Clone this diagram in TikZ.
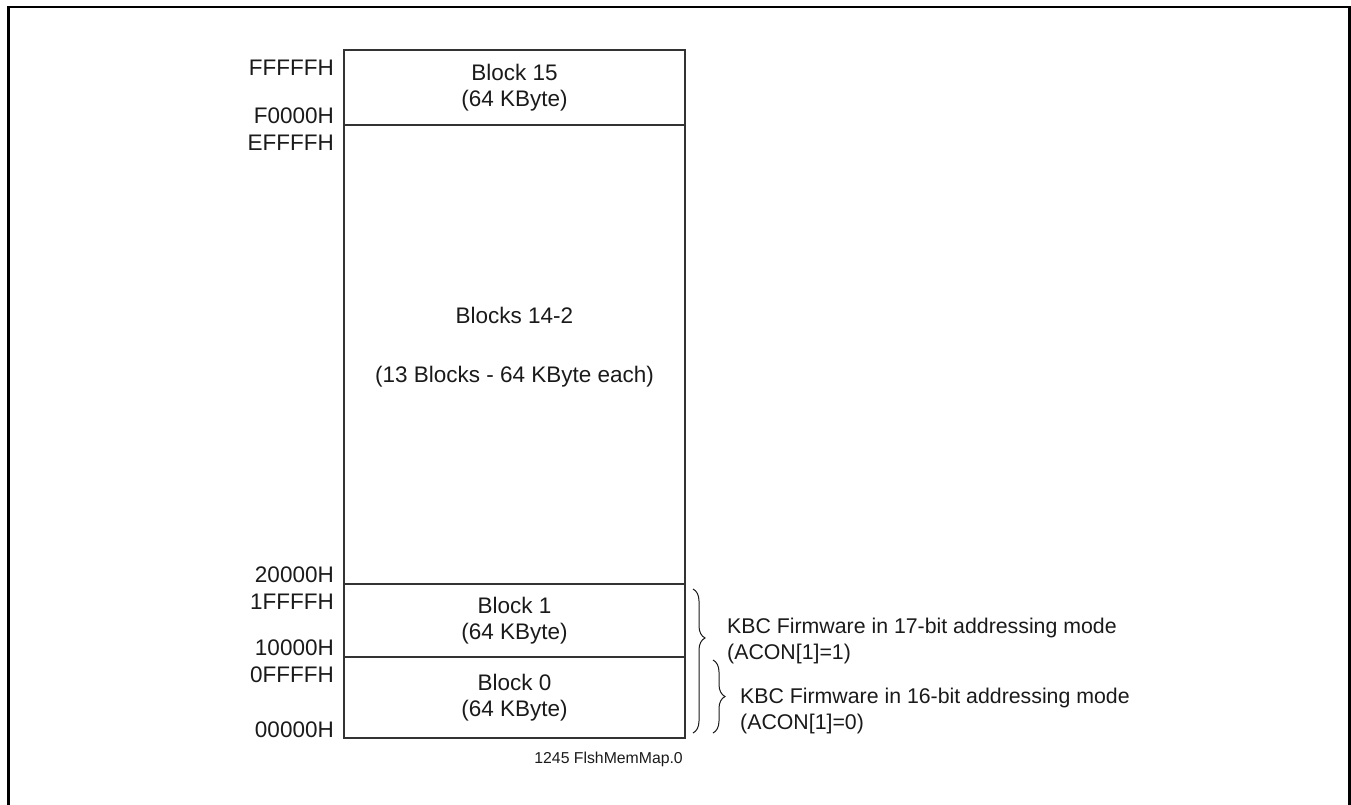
\documentclass[tikz,border=0pt]{standalone}
\usepackage{fontspec}
\setmainfont{Liberation Sans}
\usepackage{xcolor}
\usepackage{tikz}
\usetikzlibrary{positioning,decorations.pathreplacing}
\definecolor{mapline}{HTML}{333333}
\definecolor{maptext}{HTML}{1A1A1A}

\begin{document}
\begin{tikzpicture}[x=1pt, y=-1pt,
  block/.style={draw=mapline,line width=1.2pt,minimum width=341pt,inner sep=0pt,outer sep=0pt,
    align=center,text=maptext,font=\fontsize{22.5}{26}\selectfont},
  addr/.style={anchor=base east,inner sep=0pt,text=maptext,font=\fontsize{22.5}{26}\selectfont},
  note/.style={anchor=west,align=left,inner sep=0pt,text=maptext,font=\fontsize{21.3}{26}\selectfont},
  kbrace/.style={draw=maptext,line width=1pt,decorate,decoration={brace,amplitude=12pt,#1}}]
\useasboundingbox (0,0) rectangle (1351,804);
\clip (0,0) rectangle (1351,804);
\draw[line width=2.5pt] (8.5,830) -- (8.5,7) -- (1349.5,7) -- (1349.5,830);
% memory blocks
\node[block,minimum height=75pt] (b15) at (514.5,87.5) {Block 15\\(64 KByte)};
\node[block,minimum height=459pt,below=0pt of b15] (b142) {};
\node[block,minimum height=73pt,below=0pt of b142] (b1) {Block 1\\(64 KByte)};
\node[block,minimum height=81pt,below=0pt of b1] (b0) {Block 0\\(64 KByte)};
\node[addr,anchor=base] (t142a) at (514.5,323) {Blocks 14-2};
\node[addr,anchor=base] (t142b) at (514.5,382) {(13 Blocks - 64 KByte each)};
% addresses
\node[addr] (aFFFFF) at (334,75) {FFFFFH};
\node[addr] (aF0000) at (334,123.5) {F0000H};
\node[addr] (aEFFFF) at (334,150) {EFFFFH};
\node[addr] (a20000) at (334,582.5) {20000H};
\node[addr] (a1FFFF) at (334,609) {1FFFFH};
\node[addr] (a10000) at (334,655.5) {10000H};
\node[addr] (a0FFFF) at (334,682) {0FFFFH};
\node[addr] (a00000) at (334,737) {00000H};
% firmware ranges
\coordinate (br17a) at (693,589);
\coordinate (br17b) at (693,733);
\coordinate (br16a) at (713,660);
\coordinate (br16b) at (713,733);
\draw[kbrace={aspect=0.34}] (br17a) -- (br17b);
\draw[kbrace={aspect=0.5}] (br16a) -- (br16b);
\node[note] (n17) at (727,640.5) {KBC Firmware in 17-bit addressing mode\\(ACON[1]=1)};
\node[note] (n16) at (740,710.5) {KBC Firmware in 16-bit addressing mode\\(ACON[1]=0)};
\node[addr,font=\fontsize{15.8}{18}\selectfont] (fig) at (683,763) {1245 FlshMemMap.0};
\end{tikzpicture}
\end{document}
